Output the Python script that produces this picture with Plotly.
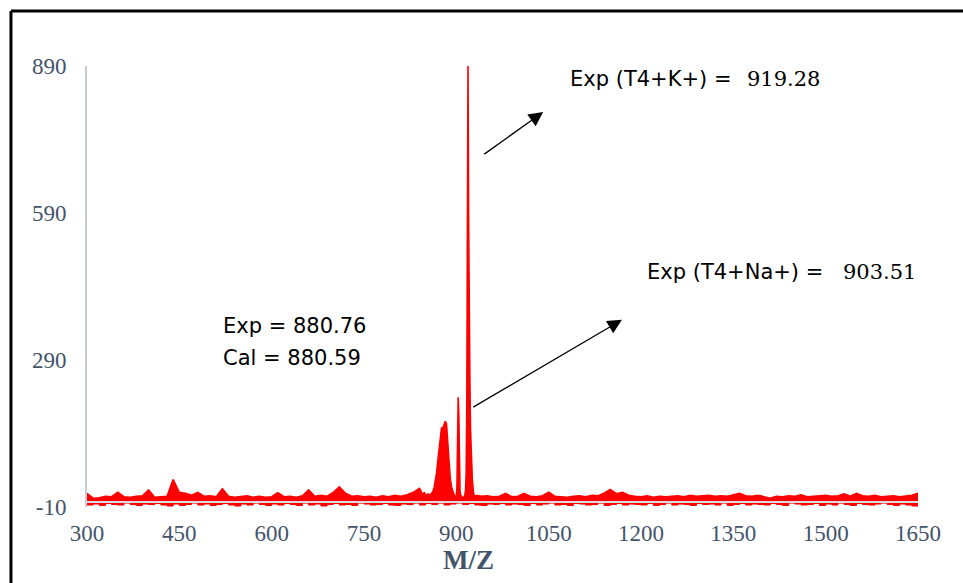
import plotly.graph_objects as go

# ---- data ----
x_a = list(range(300, 841, 10))
x_b = list(range(842, 895, 2))
x_c = list(range(895, 931, 1))
x_d = list(range(932, 941, 2))
x_e = list(range(950, 1651, 10))
mz_upper = x_a + x_b + x_c + x_d + x_e

int_upper_a = [18, 8, 9, 12, 11, 20, 11, 10, 12, 13,
               25, 10, 11, 12, 46, 20, 18, 14, 20, 12,
               13, 11, 27, 12, 10, 11, 13, 10, 12, 10,
               11, 19, 11, 12, 10, 13, 25, 12, 14, 12,
               20, 31, 18, 12, 13, 11, 12, 10, 13, 11,
               14, 12, 15, 20, 28]
int_upper_b = [24, 18, 16, 20, 15, 14, 17, 13, 16, 18,
               22, 30, 45, 60, 85, 110, 135, 152, 150, 158,
               165, 160, 125, 80, 50, 32, 22]
int_upper_c = [18, 14, 12, 10, 12, 15, 30, 120, 214, 180,
               60, 22, 14, 12, 10, 9, 8, 10, 12, 15,
               25, 60, 200, 560, 890, 571, 320, 250, 150, 90,
               80, 45, 25, 18, 14, 13]
int_upper_d = [12, 14, 11, 13, 12]
int_upper_e = [13, 11, 12, 18, 11, 12, 18, 12, 11, 13,
               20, 12, 11, 10, 12, 13, 11, 14, 13, 18,
               26, 17, 20, 14, 12, 11, 13, 10, 12, 11,
               12, 13, 11, 14, 12, 13, 14, 12, 13, 12,
               15, 18, 13, 12, 14, 11, 8, 12, 11, 13,
               12, 15, 11, 12, 13, 14, 12, 13, 17, 12,
               18, 13, 12, 14, 11, 12, 13, 11, 12, 14,
               18]
int_upper = int_upper_a + int_upper_b + int_upper_c + int_upper_d + int_upper_e

mz_lower = list(range(300, 1651, 10))
int_lower = [-6, -4, -7, -3, -5, -6, -2, -5, -7, -4,
             -5, -3, -6, -8, -4, -7, -5, -2, -6, -4,
             -7, -5, -3, -6, -8, -4, -6, -2, -5, -7,
             -4, -6, -3, -5, -7, -2, -6, -4, -8, -5,
             -3, -6, -5, -7, -2, -4, -6, -5, -3, -6,
             -7, -4, -5, -2, -6, -3, -5, -2, -6, -4,
             -2, -5, -3, -6, -7, -4, -5, -3, -6, -4,
             -5, -7, -3, -6, -4, -2, -6, -5, -7, -3,
             -4, -6, -5, -2, -7, -5, -3, -6, -4, -5,
             -6, -3, -7, -5, -2, -6, -4, -5, -7, -3,
             -5, -4, -6, -2, -7, -5, -3, -6, -4, -5,
             -6, -3, -5, -7, -2, -4, -6, -5, -3, -7,
             -4, -6, -2, -5, -7, -3, -5, -6, -4, -2,
             -5, -7, -4, -6, -8, -5]

x_ticks = [300, 450, 600, 750, 900, 1050, 1200, 1350, 1500, 1650]
y_ticks = [-10, 290, 590, 890]

# annotation texts and anchors (data coordinates)
label_k = ("Exp (T4+K+) =", "919.28")
label_na = ("Exp (T4+Na+) =", "903.51")
label_exp = "Exp = 880.76"
label_cal = "Cal = 880.59"
pos_k = (1081, 864)
pos_k_num = (1494, 864)
pos_na = (1206, 470)
pos_na_num = (1650, 470)
pos_exp = (517, 359)
pos_cal = (517, 294)
arrow_k = ((943, 708), (1041, 796))    # tail, head
arrow_na = ((925, 192), (1169, 372))

RED = "#FF0000"
AXC = "#44546A"

fig = go.Figure()
fig.add_trace(go.Scatter(x=mz_lower, y=int_lower, mode="lines", line=dict(color=RED, width=1, shape="hv"),
                         fill="tozeroy", fillcolor=RED, hoverinfo="skip", showlegend=False))
fig.add_trace(go.Scatter(x=mz_upper, y=int_upper, mode="lines", line=dict(color=RED, width=1.6),
                         fill="tozeroy", fillcolor=RED, showlegend=False))

# zero line (horizontal axis)
fig.add_shape(type="line", xref="x", yref="y", x0=300, x1=1650, y0=0, y1=0,
              line=dict(color="#D9DCE3", width=2), layer="above")

# frame (top and left edges)
fig.add_shape(type="line", xref="paper", yref="paper", x0=-0.0915, x1=1.1, y0=1.1247, y1=1.1247,
              line=dict(color="black", width=3))
fig.add_shape(type="line", xref="paper", yref="paper", x0=-0.0915, x1=-0.0915, y0=1.1247, y1=-0.25,
              line=dict(color="black", width=3))

SANS = "DejaVu Sans"
SERIF = "DejaVu Serif"

for txt, pos in [(label_k[0], pos_k), (label_na[0], pos_na), (label_exp, pos_exp), (label_cal, pos_cal)]:
    fig.add_annotation(x=pos[0], y=pos[1], xref="x", yref="y", text=txt, showarrow=False,
                       xanchor="left", yanchor="middle", font=dict(family=SANS, size=21, color="black"))
for txt, pos in [(label_k[1], pos_k_num), (label_na[1], pos_na_num)]:
    fig.add_annotation(x=pos[0], y=pos[1], xref="x", yref="y", text=txt, showarrow=False,
                       xanchor="right", yanchor="middle", font=dict(family=SERIF, size=21, color="black"))

for (tail, head) in [arrow_k, arrow_na]:
    fig.add_annotation(x=head[0], y=head[1], ax=tail[0], ay=tail[1], xref="x", yref="y",
                       axref="x", ayref="y", text="", showarrow=True, arrowhead=2,
                       arrowsize=2.2, arrowwidth=1.3, arrowcolor="black", standoff=0)

# axis title (slightly left of centre, as in the source)
fig.add_annotation(x=0.4585, y=-0.12, xref="paper", yref="paper", text="<b>M/Z</b>", showarrow=False,
                   xanchor="center", yanchor="middle",
                   font=dict(family="Liberation Serif", size=27, color=AXC))

fig.update_layout(
    width=963, height=583,
    margin=dict(l=87, r=45, t=66, b=76),
    paper_bgcolor="white", plot_bgcolor="white",
    showlegend=False,
    xaxis=dict(range=[300, 1650], tickvals=x_ticks, ticktext=[str(v) for v in x_ticks],
               showgrid=False, zeroline=False, showline=False, ticks="",
               tickfont=dict(family="Liberation Serif", size=23, color=AXC),
               ticklabelstandoff=10),
    yaxis=dict(range=[-10, 890], tickvals=y_ticks, ticktext=[str(v) for v in y_ticks],
               showgrid=False, zeroline=False, showline=True, linecolor="#C5CCD8", linewidth=2,
               ticks="", tickfont=dict(family="Liberation Serif", size=23, color=AXC),
               ticklabelstandoff=14),
)

fig.write_html("out.html")
